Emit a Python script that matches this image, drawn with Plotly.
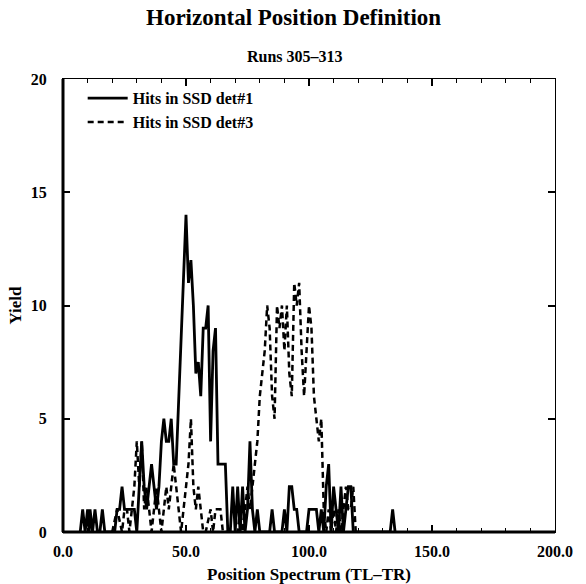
import plotly.graph_objects as go

# Hits in SSD det#1 (solid) - vertices
det1_x = [7, 8, 9, 10, 10.6, 11, 12, 13, 14, 15, 16, 17, 21, 22, 23, 24, 25, 26, 28, 29, 30, 31, 32, 33, 34, 35, 36, 37, 38, 39, 40, 41, 42, 43, 44, 45, 46,
          50, 51, 52, 53, 54, 55, 56, 57, 58, 59, 60, 61, 62, 63, 66, 67, 68, 69, 70, 71, 72, 73, 74, 75, 76, 77, 78, 79, 80, 84, 85, 86, 89, 90, 91,
          92, 93, 94, 95, 96, 99, 100, 103, 104, 105, 106, 107, 108, 109, 110, 111, 112, 113, 114, 115, 116, 117, 118, 120, 133, 134, 135]
det1_y = [0, 1, 0, 1, 0, 1, 0, 1, 0, 0, 1, 0, 0, 1, 1, 2, 1, 1, 1, 1, 0, 2, 4, 2, 1, 2, 3, 2, 1, 2, 4, 5, 4, 4, 5, 3, 3,
          14, 11, 12, 10, 7, 7.5, 6, 9, 9, 10, 4, 8, 9, 3, 3, 0, 0, 2, 0, 2, 0, 2, 0, 1, 4, 1, 0, 1, 0, 0, 1, 0, 0, 1, 0,
          2, 2, 1, 1, 0, 0, 1, 1, 0, 1, 0, 2, 3, 0, 2, 1, 0, 2, 0, 1, 2, 2, 0, 0, 0, 1, 0]

# Hits in SSD det#3 (dashed)
det3_x = [20, 22, 24, 25, 26, 27, 28, 29, 30, 31, 32, 33, 34, 35, 36, 37, 38, 39, 40, 41, 42, 43, 44, 45, 46, 47, 48, 49, 50, 51, 52, 53, 54, 55,
          56, 57, 58, 60, 61, 62, 63, 64, 65, 71, 72, 73, 74, 75, 76, 77, 78, 79, 80, 81, 82, 83, 84, 85, 86, 87, 88, 89, 90, 91, 92, 93, 94, 95,
          96, 97, 98, 99, 100, 101, 102, 103, 104, 105, 106, 107, 108, 109, 110, 111, 112, 113, 114, 115, 116, 117, 118, 119, 120]
det3_y = [0, 1, 0, 1, 1, 0, 1, 2, 4, 2, 4, 1, 2, 1, 0, 1, 2, 1, 0, 1, 2, 1, 2, 3, 2, 1, 0, 1, 2, 3, 5, 2, 1, 2,
          1, 0, 0, 1, 0, 1, 1, 1, 0, 0, 1, 0, 1, 2, 1, 2, 3, 4, 6, 7, 8, 10, 9, 6, 5, 10, 9, 10, 8, 10, 7, 6, 11, 10,
          11, 8, 6, 8, 10, 9, 6, 5, 4, 5, 1, 0, 1, 0, 1, 0, 1, 0, 1, 2, 1, 1, 2, 0, 0]

x_ticks = [0, 50, 100, 150, 200]
y_ticks = [0, 5, 10, 15, 20]

FONT = "Liberation Serif"

fig = go.Figure()
fig.add_trace(go.Scatter(x=det1_x, y=det1_y, mode="lines", name="Hits in SSD det#1",
                         line=dict(color="black", width=2.8)))
fig.add_trace(go.Scatter(x=det3_x, y=det3_y, mode="lines", name="Hits in SSD det#3",
                         line=dict(color="black", width=2.5, dash="6px,4px")))

axis_common = dict(showgrid=False, zeroline=False, showline=True, linecolor="black", linewidth=1,
                   mirror="ticks", ticks="inside", tickcolor="black", ticklen=7, tickwidth=1.5,
                   automargin=False,
                   tickfont=dict(family=FONT, size=16, color="black", weight=700))

fig.update_xaxes(range=[0, 200], tickvals=x_ticks, tickformat=".1f", ticklabelstandoff=5,
                 minor=dict(dtick=10, ticks="inside", ticklen=4, tickcolor="black", tickwidth=1),
                 title=dict(text="Position Spectrum (TL\u2013TR)", standoff=12,
                            font=dict(family=FONT, size=17, color="black", weight=700)),
                 **axis_common)
fig.update_yaxes(range=[0, 20], tickvals=y_ticks, ticklabelstandoff=12,
                 title=dict(text="Yield", standoff=4,
                            font=dict(family=FONT, size=17, color="black", weight=700)),
                 **axis_common)

# thick left and bottom frame lines
fig.add_shape(type="line", xref="paper", yref="paper", x0=0, x1=0, y0=0, y1=1,
              line=dict(color="black", width=3))
fig.add_shape(type="line", xref="paper", yref="paper", x0=0, x1=1, y0=0, y1=0,
              line=dict(color="black", width=3))

fig.add_annotation(text="Horizontal Position Definition", xref="paper", yref="paper",
                   x=0.4675, y=1.135, showarrow=False, xanchor="center", yanchor="middle",
                   font=dict(family=FONT, size=23, color="black", weight=700))
fig.add_annotation(text="Runs 305\u2013313", xref="paper", yref="paper",
                   x=0.4716, y=1.0486, showarrow=False, xanchor="center", yanchor="middle",
                   font=dict(family=FONT, size=16, color="black", weight=700))

fig.update_layout(
    width=586, height=584,
    margin=dict(l=63, r=31, t=79, b=52),
    paper_bgcolor="white", plot_bgcolor="white",
    showlegend=True,
    legend=dict(x=0.04, y=0.995, xanchor="left", yanchor="top", bgcolor="rgba(0,0,0,0)",
                font=dict(family=FONT, size=16, color="black", weight=700),
                itemwidth=40, tracegroupgap=0),
)

fig.write_html("out.html")
